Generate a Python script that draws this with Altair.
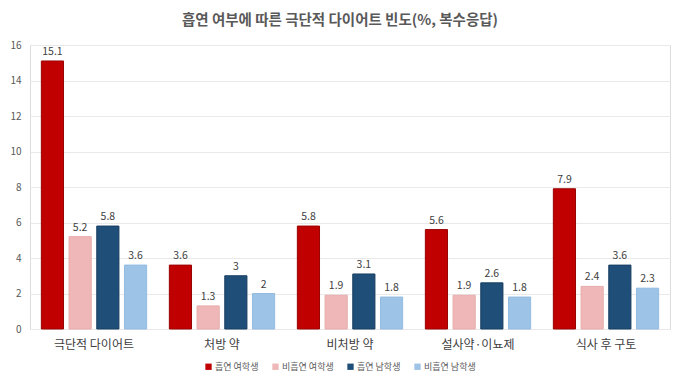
import altair as alt
import pandas as pd

categories = ["극단적 다이어트", "처방 약", "비처방 약", "설사약·이뇨제", "식사 후 구토"]
series = ["흡연 여학생", "비흡연 여학생", "흡연 남학생", "비흡연 남학생"]
smoking_girls = [15.1, 3.6, 5.8, 5.6, 7.9]
nonsmoking_girls = [5.2, 1.3, 1.9, 1.9, 2.4]
smoking_boys = [5.8, 3.0, 3.1, 2.6, 3.6]
nonsmoking_boys = [3.6, 2.0, 1.8, 1.8, 2.3]
colors = ["#C00000", "#EFB7B7", "#1F4E79", "#9DC3E6"]
strokes = ["#9A0000", "#E8ABAB", "#183E60", "#93BBE0"]

rows = []
for s, vals in zip(series, [smoking_girls, nonsmoking_girls, smoking_boys, nonsmoking_boys]):
    for c, v in zip(categories, vals):
        rows.append({"category": c, "series": s, "value": v, "label": f"{v:g}"})
df = pd.DataFrame(rows)

FONT = "Noto Sans CJK KR"

x = alt.X("category:N", sort=categories, title=None,
          scale=alt.Scale(paddingInner=0, paddingOuter=0),
          axis=alt.Axis(labelAngle=0, labelFontSize=12, labelColor="#404040", labelFont=FONT,
                        ticks=False, domain=False, labelPadding=10, grid=False))
xo = alt.XOffset("series:N", sort=series,
                 scale=alt.Scale(paddingInner=0.2, paddingOuter=0.41))
y = alt.Y("value:Q", title=None,
          scale=alt.Scale(domain=[0, 16], nice=False),
          axis=alt.Axis(values=list(range(0, 17, 2)), labelFontSize=10, labelColor="#595959",
                        labelFont=FONT, ticks=False, domain=False, labelPadding=9,
                        labelOverlap=False, gridColor="#E9E9E9", gridWidth=1))

bars = alt.Chart(df).mark_bar(strokeWidth=1).encode(
    x=x, xOffset=xo, y=y,
    color=alt.Color("series:N", sort=series,
                    scale=alt.Scale(domain=series, range=colors),
                    legend=alt.Legend(title=None, orient="none", direction="horizontal",
                                      legendX=174, legendY=317, symbolType="square",
                                      symbolSize=40, symbolStrokeWidth=0,
                                      labelFontSize=9, labelColor="#595959", labelFont=FONT,
                                      columnPadding=12, labelOffset=2)),
    stroke=alt.Stroke("series:N", sort=series,
                      scale=alt.Scale(domain=series, range=strokes), legend=None),
)

texts = alt.Chart(df).mark_text(dy=-9, fontSize=10.5, color="#404040", font=FONT).encode(
    x=x, xOffset=xo, y=y, text="label:N",
)

chart = alt.layer(bars, texts).properties(
    width=640, height=284,
    title=alt.TitleParams("흡연 여부에 따른 극단적 다이어트 빈도(%, 복수응답)", fontSize=14.5,
                          font=FONT, fontWeight="bold", color="#595959", offset=12, dx=-10),
    autosize=alt.AutoSizeParams(type="none"),
    padding={"left": 22, "top": 37, "right": 2, "bottom": 44},
).configure_view(stroke=None).configure(background="white")

chart.save("out.html", embed_options={"renderer": "svg", "actions": False})
